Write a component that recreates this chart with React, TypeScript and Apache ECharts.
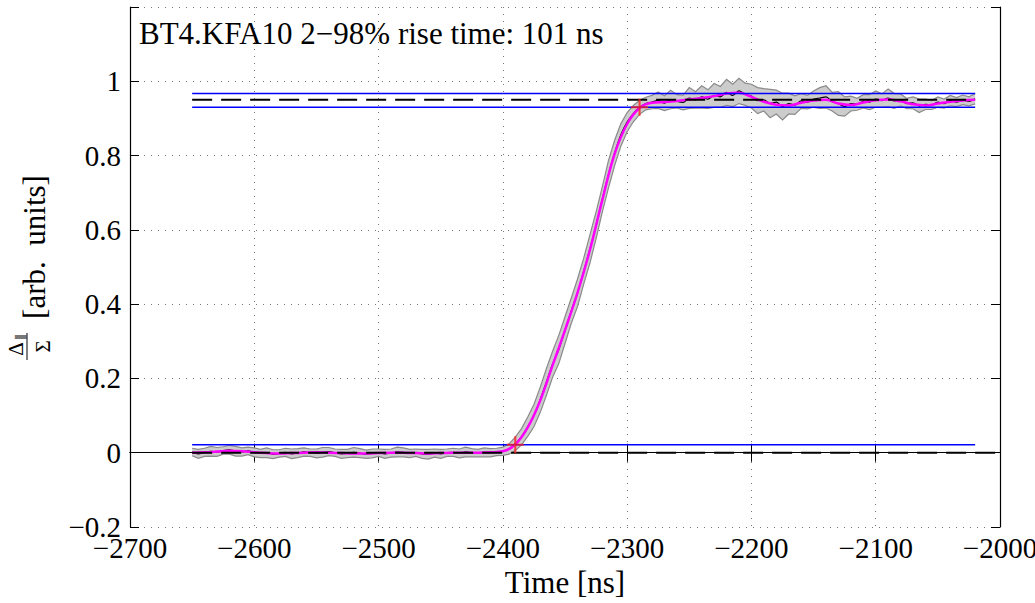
import React, { useEffect, useRef } from "react";
import * as echarts from "echarts";

// sampling of the measured trace
const T0 = -2650;
const DT = 5;

// measured mean (black trace), 5 ns sampling
const meanBase = [
  0.002, -0.003, 0.001, 0.004, 0.002, 0.006, 0.008, 0.004, 0.002, 0.005,
  0.001, -0.002, 0.0, -0.004, -0.002, 0.001, -0.003, -0.001, 0.002, 0.0,
  -0.002, 0.001, 0.003, 0.0, -0.003, -0.002, 0.001, -0.001, -0.004, -0.002,
  0.0, -0.003, -0.001, 0.002, 0.001, -0.002, 0.0, -0.003, -0.004, -0.001,
  -0.003, 0.0, 0.001, -0.002, 0.002, 0.0, -0.001, 0.001, 0.0, 0.002,
];
const meanRise = [
  0.004, 0.01, 0.024, 0.043, 0.07, 0.1, 0.142, 0.19, 0.238, 0.278,
  0.33, 0.382, 0.43, 0.488, 0.548, 0.612, 0.682, 0.75, 0.808, 0.856,
  0.89, 0.913, 0.93, 0.94,
];
const meanTop = [
  0.944, 0.949, 0.941, 0.951, 0.946, 0.943, 0.955, 0.95, 0.958, 0.952,
  0.962, 0.958, 0.97, 0.962, 0.974, 0.965, 0.96, 0.948, 0.95, 0.94,
  0.944, 0.932, 0.94, 0.936, 0.947, 0.944, 0.952, 0.955, 0.958, 0.945,
  0.94, 0.932, 0.94, 0.938, 0.946, 0.944, 0.952, 0.948, 0.955, 0.947,
  0.95, 0.94, 0.942, 0.934, 0.938, 0.936, 0.944, 0.94, 0.948, 0.944,
  0.95, 0.946, 0.953,
];

// half-width of the grey envelope
const spreadBase = [
  0.010, 0.012, 0.011, 0.013, 0.012, 0.010, 0.012, 0.013, 0.011, 0.010,
  0.012, 0.011, 0.013, 0.012, 0.010, 0.011, 0.013, 0.012, 0.011, 0.010,
  0.012, 0.013, 0.011, 0.010, 0.012, 0.011, 0.013, 0.012, 0.011, 0.012,
  0.010, 0.012, 0.011, 0.013, 0.012, 0.011, 0.010, 0.012, 0.013, 0.011,
  0.012, 0.010, 0.011, 0.012, 0.013, 0.011, 0.010, 0.012, 0.011, 0.010,
];
const spreadRise = [
  0.011, 0.014, 0.018, 0.022, 0.026, 0.03, 0.034, 0.036, 0.035, 0.038,
  0.036, 0.034, 0.037, 0.035, 0.038, 0.036, 0.034, 0.037, 0.034, 0.03,
  0.026, 0.022, 0.019, 0.017,
];
const spreadTop = [
  0.018, 0.022, 0.02, 0.025, 0.018, 0.02, 0.028, 0.022, 0.03, 0.025,
  0.032, 0.028, 0.035, 0.03, 0.034, 0.03, 0.032, 0.035, 0.03, 0.038,
  0.032, 0.036, 0.028, 0.025, 0.02, 0.018, 0.022, 0.028, 0.03, 0.025,
  0.032, 0.026, 0.02, 0.016, 0.018, 0.02, 0.022, 0.018, 0.024, 0.02,
  0.016, 0.014, 0.016, 0.018, 0.014, 0.012, 0.014, 0.012, 0.014, 0.012,
  0.013, 0.012, 0.014,
];

// smoothed fit (magenta), 10 ns sampling
const FIT_T0 = -2650;
const FIT_DT = 10;
const fitValues = [
  0.0, 0.001, 0.003, 0.005, 0.004, 0.001, -0.001, -0.002, -0.001, 0.0,
  0.001, 0.0, -0.001, -0.002, -0.002, -0.001, 0.0, 0.0, -0.001, -0.002,
  -0.001, 0.0, 0.0, 0.0, 0.001, 0.004, 0.022, 0.068, 0.14, 0.235,
  0.33, 0.43, 0.545, 0.68, 0.805, 0.885, 0.928, 0.942, 0.944, 0.947,
  0.951, 0.955, 0.96, 0.967, 0.969, 0.958, 0.945, 0.937, 0.935, 0.942,
  0.948, 0.95, 0.94, 0.936, 0.943, 0.949, 0.951, 0.946, 0.938, 0.935,
  0.94, 0.945, 0.948, 0.95,
];

// reference levels
const blueLevels = [0.0215, 0.93, 0.967];
const blueSpan = [-2650, -2020];
const dashedLevels = [
  { y: 0, from: -2650, to: -2000 },
  { y: 0.95, from: -2650, to: -2020 },
];
const crossPoints = [
  [-2390, 0.0215],
  [-2290, 0.93],
];

const xTicks = { min: -2700, max: -2000, interval: 100 };
const yTicks = { min: -0.2, max: 1.2, interval: 0.2 };

const TITLE = "BT4.KFA10 2\u221298% rise time: 101 ns";
const FONT = "serif";

function fmt(v: number) {
  const r = Math.round(v * 10) / 10;
  return String(r).replace("-", "\u2212");
}

export default function App() {
  const ref = useRef<HTMLDivElement>(null);
  useEffect(() => {
    if (!ref.current) return;
    const chart = echarts.init(ref.current, null, { renderer: "svg" });

    const mean = [...meanBase, ...meanRise, ...meanTop];
    const spread = [...spreadBase, ...spreadRise, ...spreadTop];
    const meanPts = mean.map((v, i) => [T0 + i * DT, v]);
    const fitPts = fitValues.map((v, i) => [FIT_T0 + i * FIT_DT, v]);

    const series: any[] = [
      {
        type: "custom",
        name: "band",
        data: [[T0, 0]],
        z: 1,
        silent: true,
        renderItem: (params: any, api: any) => {
          const up = mean.map((v, i) => api.coord([T0 + i * DT, v + spread[i]]));
          const lo = mean.map((v, i) => api.coord([T0 + i * DT, v - spread[i]]));
          const poly = [...up, ...lo.slice().reverse()];
          return {
            type: "group",
            children: [
              {
                type: "polygon",
                shape: { points: poly },
                style: { fill: "#cccccc", stroke: "none" },
              },
              {
                type: "polyline",
                shape: { points: up },
                style: { fill: "none", stroke: "#8a8a8a", lineWidth: 1.2 },
              },
              {
                type: "polyline",
                shape: { points: lo },
                style: { fill: "none", stroke: "#8a8a8a", lineWidth: 1.2 },
              },
            ],
          };
        },
      },
      {
        type: "line",
        name: "mean",
        data: meanPts,
        symbol: "none",
        smooth: 0.3,
        lineStyle: { color: "#000", width: 1.2 },
        z: 2,
      },
      {
        type: "line",
        name: "fit",
        data: fitPts,
        symbol: "none",
        smooth: 0.4,
        lineStyle: { color: "#ff00ff", width: 2.5 },
        z: 3,
      },
    ];
    dashedLevels.forEach((d, k) => {
      series.push({
        type: "line",
        name: "dash" + k,
        data: [
          [d.from, d.y],
          [d.to, d.y],
        ],
        symbol: "none",
        lineStyle: { color: "#000", width: 2, type: [20, 9] },
        z: 4,
      });
    });
    blueLevels.forEach((y, k) => {
      series.push({
        type: "line",
        name: "blue" + k,
        data: [
          [blueSpan[0], y],
          [blueSpan[1], y],
        ],
        symbol: "none",
        lineStyle: { color: "#0000ff", width: 1.4 },
        z: 5,
      });
    });
    series.push({
      type: "scatter",
      name: "cross",
      data: crossPoints,
      symbol: "path://M7,0H9V7H16V9H9V16H7V9H0V7H7Z",
      symbolSize: 17,
      itemStyle: { color: "#ff2020" },
      z: 6,
    });

    const gridDots = { color: "#777", width: 1, type: [1, 6] };

    chart.setOption({
      animation: false,
      textStyle: { fontFamily: FONT },
      grid: {
        left: 130,
        right: 35,
        top: 7,
        bottom: 76,
        containLabel: false,
        outerBoundsMode: "none",
      },
      xAxis: [
        {
          type: "value",
          min: xTicks.min,
          max: xTicks.max,
          interval: xTicks.interval,
          position: "bottom",
          name: "Time [ns]",
          nameLocation: "middle",
          nameGap: 37,
          nameTextStyle: { fontFamily: FONT, fontSize: 31, color: "#000" },
          axisLine: { show: true, lineStyle: { color: "#000", width: 1.2 } },
          axisTick: { show: true, inside: true, length: 9, lineStyle: { color: "#000" } },
          axisLabel: {
            formatter: (v: number) => String(v).replace("-", "\u2212"),
            fontFamily: FONT,
            fontSize: 29,
            color: "#000",
            margin: 6,
          },
          splitLine: { show: true, lineStyle: gridDots },
        },
        {
          type: "value",
          min: xTicks.min,
          max: xTicks.max,
          interval: xTicks.interval,
          position: "top",
          axisLine: { show: true, lineStyle: { color: "#000", width: 1.2 } },
          axisTick: { show: true, inside: true, length: 9, lineStyle: { color: "#000" } },
          axisLabel: { show: false },
          splitLine: { show: false },
        },
      ],
      yAxis: [
        {
          type: "value",
          min: yTicks.min,
          max: yTicks.max,
          interval: yTicks.interval,
          position: "left",
          axisLine: { show: true, lineStyle: { color: "#000", width: 1.2 } },
          axisTick: { show: true, inside: true, length: 9, lineStyle: { color: "#000" } },
          axisLabel: {
            formatter: (v: number) => (v > 1.1 ? "" : fmt(v)),
            fontFamily: FONT,
            fontSize: 29,
            color: "#000",
            margin: 9,
          },
          splitLine: { show: true, lineStyle: gridDots },
        },
        {
          type: "value",
          min: yTicks.min,
          max: yTicks.max,
          interval: yTicks.interval,
          position: "right",
          axisLine: { show: true, lineStyle: { color: "#000", width: 1.2 } },
          axisTick: { show: true, inside: true, length: 9, lineStyle: { color: "#000" } },
          axisLabel: { show: false },
          splitLine: { show: false },
        },
      ],
      graphic: [
        {
          type: "text",
          x: 139,
          y: 33,
          style: {
            text: TITLE,
            fontFamily: FONT,
            fontSize: 31,
            fill: "#000",
            align: "left",
            verticalAlign: "middle",
          },
          z: 10,
        },
        {
          type: "text",
          x: 34,
          y: 247,
          rotation: Math.PI / 2,
          style: {
            text: "[arb.  units]",
            fontFamily: FONT,
            fontSize: 31,
            fill: "#000",
            align: "center",
            verticalAlign: "middle",
          },
        },
        {
          type: "text",
          x: 16,
          y: 349,
          rotation: Math.PI / 2,
          style: {
            text: "\u0394",
            fontFamily: FONT,
            fontSize: 21,
            fill: "#000",
            align: "center",
            verticalAlign: "middle",
          },
        },
        {
          type: "text",
          x: 20,
          y: 337,
          rotation: Math.PI / 2,
          style: {
            text: "\u2225",
            fontFamily: FONT,
            fontSize: 12,
            fill: "#000",
            align: "center",
            verticalAlign: "middle",
          },
        },
        {
          type: "line",
          shape: { x1: 27, y1: 333, x2: 27, y2: 360 },
          style: { stroke: "#000", lineWidth: 1 },
        },
        {
          type: "text",
          x: 42.5,
          y: 346.5,
          rotation: Math.PI / 2,
          style: {
            text: "\u03A3",
            fontFamily: FONT,
            fontSize: 21,
            fill: "#000",
            align: "center",
            verticalAlign: "middle",
          },
        },
      ],
      series,
    });
    return () => chart.dispose();
  }, []);
  return (
    <div
      ref={ref}
      style={{ position: "fixed", left: 0, top: 0, width: 1035, height: 603, background: "#fff" }}
    />
  );
}
